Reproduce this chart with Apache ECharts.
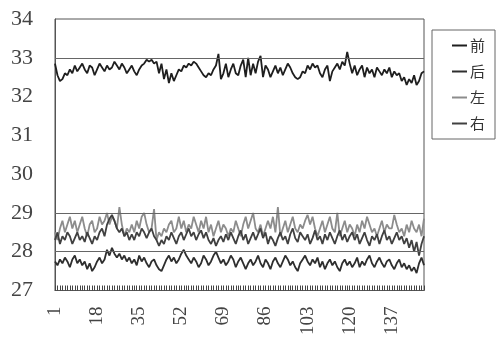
<!DOCTYPE html>
<html><head><meta charset="utf-8">
<script src="https://cdn.jsdelivr.net/npm/echarts@6/dist/echarts.min.js"></script>
<style>html,body{margin:0;padding:0;background:#fff}#c{width:497px;height:338px}</style>
</head><body><div id="c"></div>
<script>
const seriesNames = ['前','后','左','右'];
const yTicks = [27,28,29,30,31,32,33,34];
const refLines = [33,29,28];

const front = [32.85,32.55,32.4,32.45,32.6,32.55,32.7,32.6,32.8,32.65,32.75,32.85,32.7,32.6,32.8,32.75,32.55,32.7,32.85,32.75,
32.65,32.8,32.7,32.75,32.9,32.8,32.7,32.85,32.75,32.6,32.7,32.8,32.65,32.55,32.7,32.8,32.85,32.95,32.9,32.95,
32.85,32.9,32.6,32.85,32.45,32.7,32.35,32.6,32.4,32.55,32.7,32.65,32.8,32.75,32.85,32.8,32.9,32.85,32.75,32.65,
32.55,32.5,32.6,32.55,32.7,32.8,33.1,32.45,32.6,32.85,32.5,32.7,32.85,32.6,32.55,32.8,32.95,32.5,33.0,32.55,
32.85,32.6,32.9,33.05,32.5,32.8,32.7,32.5,32.65,32.8,32.6,32.75,32.55,32.7,32.85,32.75,32.6,32.5,32.45,32.5,
32.65,32.6,32.8,32.7,32.85,32.75,32.8,32.6,32.5,32.7,32.8,32.4,32.65,32.75,32.85,32.7,32.9,32.8,33.15,32.85,
32.6,32.8,32.55,32.7,32.8,32.5,32.75,32.6,32.7,32.5,32.75,32.65,32.55,32.7,32.6,32.75,32.5,32.65,32.55,32.6,
32.4,32.5,32.3,32.45,32.35,32.55,32.3,32.4,32.6,32.65];

const back = [27.75,27.65,27.8,27.7,27.85,27.75,27.6,27.8,27.9,27.7,27.8,
27.65,27.75,27.55,27.7,27.5,27.6,27.75,27.85,27.7,27.8,
28.05,27.9,28.1,27.95,27.85,27.95,27.8,27.9,27.75,27.85,
27.7,27.8,27.65,27.9,27.75,27.85,27.7,27.6,27.75,27.8,
27.65,27.55,27.5,27.65,27.8,27.9,27.75,27.85,27.7,27.8,
27.95,28.05,27.9,27.8,27.7,27.85,27.75,27.6,27.7,27.9,
27.8,27.65,27.75,27.9,28.0,27.85,27.7,27.8,27.65,27.75,
27.9,27.8,27.6,27.75,27.85,27.7,27.55,27.7,27.8,27.65,
27.75,27.9,27.7,27.6,27.8,27.7,27.55,27.75,27.85,27.7,
27.6,27.75,27.9,27.8,27.65,27.75,27.6,27.5,27.7,27.8,
27.9,27.75,27.65,27.8,27.7,27.85,27.6,27.75,27.55,27.7,
27.8,27.65,27.75,27.6,27.5,27.7,27.8,27.65,27.75,27.6,
27.7,27.85,27.6,27.75,27.65,27.8,27.9,27.7,27.6,27.75,
27.85,27.7,27.6,27.75,27.8,27.65,27.55,27.7,27.8,27.6,
27.7,27.55,27.65,27.5,27.6,27.45,27.7,27.85,27.65];

const left = [28.5,28.3,28.6,28.8,28.5,28.7,28.9,28.6,28.8,28.5,28.7,
28.9,28.6,28.4,28.7,28.8,28.5,28.6,28.9,28.7,28.8,
29.0,28.7,28.9,28.8,28.6,29.15,28.7,28.4,28.6,28.5,
28.7,28.5,28.8,28.6,28.9,29.0,28.7,28.5,28.6,29.1,
28.3,28.5,28.4,28.6,28.5,28.7,28.8,28.5,28.6,28.9,
28.6,28.8,28.5,28.7,28.6,28.9,28.7,28.5,28.8,28.6,
28.9,28.5,28.7,28.4,28.6,28.8,28.5,28.7,28.6,28.4,
28.6,28.5,28.8,28.6,28.4,28.7,28.9,28.6,28.8,29.0,
28.6,28.5,28.7,28.4,28.6,28.8,28.6,28.9,28.5,29.15,
28.4,28.6,28.8,28.5,28.7,28.9,28.6,28.5,28.7,28.6,
28.8,28.95,28.7,28.9,28.6,28.4,28.6,28.8,28.5,28.7,
28.9,28.6,28.5,29.0,28.4,28.6,28.8,28.5,28.7,28.6,
28.4,28.7,28.5,28.8,28.6,28.9,28.7,28.5,28.6,28.4,
28.6,28.8,28.5,28.7,28.6,28.6,28.95,28.7,28.5,28.6,
28.4,28.7,28.5,28.8,28.6,28.5,28.7,28.4,28.85];

const right = [28.3,28.5,28.2,28.4,28.3,28.5,28.4,28.2,28.35,28.5,28.3,
28.4,28.25,28.5,28.35,28.2,28.4,28.3,28.5,28.6,28.4,
28.7,28.85,28.95,28.8,28.6,28.5,28.6,28.4,28.5,28.3,
28.45,28.3,28.5,28.4,28.6,28.5,28.35,28.5,28.6,28.4,
28.3,28.15,28.3,28.2,28.4,28.3,28.5,28.35,28.2,28.4,
28.5,28.3,28.45,28.6,28.4,28.5,28.3,28.45,28.55,28.35,
28.5,28.3,28.2,28.35,28.15,28.3,28.4,28.25,28.45,28.3,
28.5,28.35,28.2,28.4,28.55,28.3,28.45,28.2,28.35,28.5,
28.3,28.45,28.6,28.35,28.5,28.2,28.4,28.3,28.15,28.35,
28.5,28.3,28.4,28.2,28.45,28.6,28.35,28.25,28.5,28.4,
28.3,28.45,28.2,28.35,28.55,28.3,28.4,28.2,28.45,28.3,
28.5,28.35,28.2,28.4,28.55,28.3,28.45,28.25,28.4,28.5,
28.3,28.45,28.2,28.35,28.5,28.3,28.15,28.4,28.3,28.45,
28.2,28.4,28.55,28.3,28.4,28.2,28.35,28.5,28.3,28.4,
28.2,28.35,28.1,28.3,28.0,28.25,27.9,28.2,28.4];

const categories = front.map((_, i) => String(i + 1));
const seriesData = [front, back, left, right];
const colors = ['#1e1e1e', '#2e2e2e', '#8c8c8c', '#404040'];

const chart = echarts.init(document.getElementById('c'), null, {renderer: 'canvas'});
const serif = '"Liberation Serif", "DejaVu Serif", serif';

chart.setOption({
  animation: false,
  color: colors,
  grid: {left: 55, right: 73, top: 19, bottom: 46, show: true, borderColor: '#555', borderWidth: 1, backgroundColor: 'transparent'},
  legend: {
    orient: 'vertical', left: 432, top: 30,
    data: seriesNames,
    icon: 'rect', itemWidth: 15, itemHeight: 2, itemGap: 11,
    padding: [8, 10, 8, 20],
    borderColor: '#666', borderWidth: 1,
    textStyle: {fontFamily: '"Noto Sans CJK SC", sans-serif', fontSize: 15, color: '#333', padding: [0,0,0,-2]}
  },
  xAxis: {
    type: 'category', data: categories, boundaryGap: false,
    axisLine: {show: true, lineStyle: {color: '#555', width: 1}},
    axisTick: {show: true, interval: 0, inside: true, length: 5, lineStyle: {color: '#444', width: 1}},
    axisLabel: {interval: 16, rotate: 90, margin: 16, fontFamily: serif, fontSize: 19, color: '#444'},
    splitLine: {show: false}
  },
  yAxis: {
    type: 'value', min: yTicks[0], max: yTicks[yTicks.length - 1], interval: 1,
    axisLine: {show: true, lineStyle: {color: '#555'}},
    axisTick: {show: false},
    axisLabel: {margin: 22, fontFamily: serif, fontSize: 22, color: '#444'},
    splitLine: {show: false}
  },
  series: seriesNames.map((name, k) => ({
    name, type: 'line', data: seriesData[k], showSymbol: false, symbol: 'none',
    lineStyle: {width: 1.8, color: colors[k]},
    z: k === 2 ? 2 : 3,
    markLine: k === 0 ? {
      silent: true, symbol: 'none', label: {show: false},
      lineStyle: {color: '#666', width: 1, type: 'solid'},
      data: refLines.map(v => ({yAxis: v}))
    } : undefined
  }))
});
</script>
</body></html>
